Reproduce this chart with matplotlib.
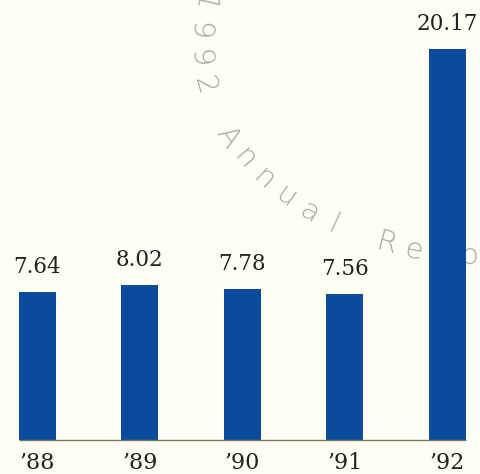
import numpy as np
import matplotlib
matplotlib.use("Agg")
import matplotlib.pyplot as plt

years = ["\u201988", "\u201989", "\u201990", "\u201991", "\u201992"]
values = [7.64, 8.02, 7.78, 7.56, 20.17]

BAR_COLOR = "#0b4b9c"
BG = "#fffef4"
WATERMARK = "1992 Annual Report"

W, H = 480, 474

fig = plt.figure(figsize=(W / 100, H / 100), dpi=100, facecolor=BG)
ax = fig.add_axes([0, 0, 1, 1])
ax.set_facecolor(BG)

x = np.arange(len(values))
width = 0.361
bars = ax.bar(x, values, width=width, color=BAR_COLOR, zorder=2)

# thin rule along the bottom of the bars
ax.hlines(0, x[0] - width / 2, x[-1] + width / 2, color="#7a7a5c", lw=1.0, zorder=3)

for xi, v in zip(x, values):
    ax.annotate(f"{v:.2f}", (xi, v), xytext=(0, 18), textcoords="offset points",
                ha="center", va="center", family="DejaVu Serif", fontsize=15.5,
                color="#222222")

for xi, lab in zip(x, years):
    ax.annotate(lab, (xi, 0), xytext=(0, -16.5), textcoords="offset points",
                ha="center", va="center", family="DejaVu Serif", fontsize=16,
                color="#222222")

ax.set_xlim(-0.366, 4.321)
ax.set_ylim(-1.755, 22.72)
ax.axis("off")

# curved watermark text on an elliptical arc (pixel coords, y measured from top)
cx, cy, a, b = 478.0, 40.0, 280.0, 216.0
t = np.linspace(-0.6, np.pi / 2 + 0.3, 4000)
px = cx - a * np.cos(t)
py = cy + b * np.sin(t)
seg = np.hypot(np.diff(px), np.diff(py))
s = np.concatenate([[0], np.cumsum(seg)])
t2 = np.arcsin((86 - cy) / b)
s2 = np.interp(t2, t, s)
step = 28.0
for i, ch in enumerate(WATERMARK):
    if ch == " ":
        continue
    si = s2 + (i - 3) * step
    ti = np.interp(si, s, t)
    xp = cx - a * np.cos(ti)
    yp = cy + b * np.sin(ti)
    ang = np.degrees(np.arctan2(-b * np.cos(ti), a * np.sin(ti)))
    ax.text(xp / W, 1 - yp / H, ch, transform=ax.transAxes, rotation=ang,
            rotation_mode="anchor", ha="center", va="center",
            family="DejaVu Sans", fontweight="light", fontsize=21,
            color="#a9a99c", zorder=1)

fig.savefig("out.png", dpi=100, facecolor=BG)
